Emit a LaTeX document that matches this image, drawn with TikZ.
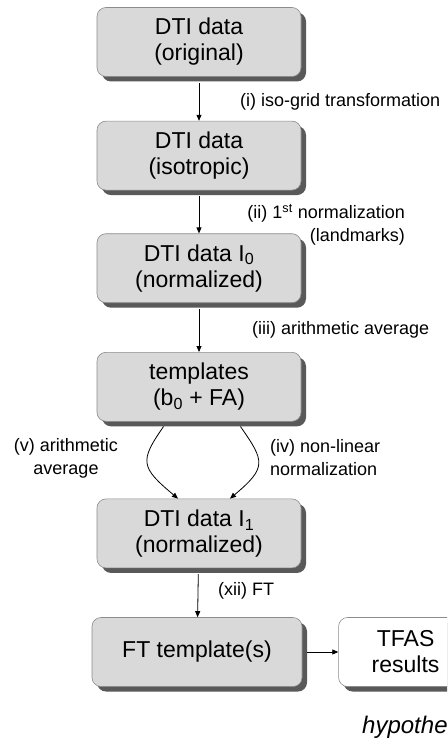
\documentclass[tikz,border=0pt]{standalone}
\usepackage{fontspec}
\setmainfont{Liberation Sans}
\usetikzlibrary{arrows.meta}
\usetikzlibrary{positioning}
\usetikzlibrary{shadows}

\tikzset{
  stagebox/.style={draw=black!45, line width=0.6pt, fill=gray!30, rounded corners=9pt,
    minimum width=204pt, minimum height=69pt, align=center, inner sep=2pt,
    font=\fontsize{23}{26}\selectfont,
    general shadow={fill=black!65, shadow xshift=5pt, shadow yshift=-5pt}},
  resultbox/.style={stagebox, fill=white, minimum width=134pt},
  steplabel/.style={inner sep=0pt, font=\fontsize{18}{23}\selectfont},
  flow/.style={-{Triangle[length=6pt,width=5pt]}, line width=0.8pt},
}

\begin{document}
\begin{tikzpicture}[x=1pt, y=1pt]
  \clip (0,0) rectangle (447,-741);
  \fill[white] (0,0) rectangle (447,-741);

  % processing stages
  \node[stagebox] (orig) at (199,-42) {DTI data\\(original)};
  \node[stagebox, below=44pt of orig] (iso) {DTI data\\(isotropic)};
  \node[stagebox, below=43pt of iso] (norm0) {DTI data I\textsubscript{0}\\(normalized)};
  \node[stagebox, below=49pt of norm0] (tmpl) {templates\\(b\textsubscript{0} + FA)};
  \node[stagebox, below=77pt of tmpl] (norm1) {DTI data I\textsubscript{1}\\(normalized)};
  \node[stagebox, minimum width=210pt, below=49pt of norm1, xshift=-2pt] (ftt) {FT template(s)};
  \node[resultbox, right=36pt of ftt] (tfas) {TFAS\\results};

  % connectors
  \draw[flow, shorten <=6pt] (orig) -- (iso);
  \draw[flow, shorten <=6pt] (iso) -- (norm0);
  \draw[flow, shorten <=6pt] (norm0) -- (tmpl);
  \draw[flow, shorten <=6pt] (norm1) -- (ftt);
  \draw[flow, shorten <=5pt] (ftt) -- (tfas);
  \draw[flow, shorten <=6pt] ([xshift=-32pt]tmpl.south) to[out=235, in=140, looseness=1.6] ([xshift=-21pt]norm1.north);
  \draw[flow, shorten <=6pt] ([xshift=38pt]tmpl.south) to[out=-55, in=40, looseness=1.6] ([xshift=31pt]norm1.north);

  % step labels
  \node[steplabel, anchor=west] (lbliso) at (240,-102) {(i) iso-grid transformation};
  \node[steplabel, anchor=east, align=right] (lblfirst) at (405,-225) {(ii) 1\textsuperscript{st} normalization\\(landmarks)};
  \node[steplabel, anchor=west] (lblavg) at (252,-330) {(iii) arithmetic average};
  \node[steplabel, align=center] (lblavgb) at (66,-458) {(v) arithmetic\\average};
  \node[steplabel, anchor=west, align=left] (lblnonlin) at (270,-458) {(iv) non-linear\\normalization};
  \node[steplabel, anchor=west] (lblft) at (218,-591) {(xii) FT};
  \node[inner sep=0pt, anchor=west, font=\fontsize{24}{27}\selectfont\itshape] (hyp) at (362,-727) {hypothe};
\end{tikzpicture}
\end{document}
